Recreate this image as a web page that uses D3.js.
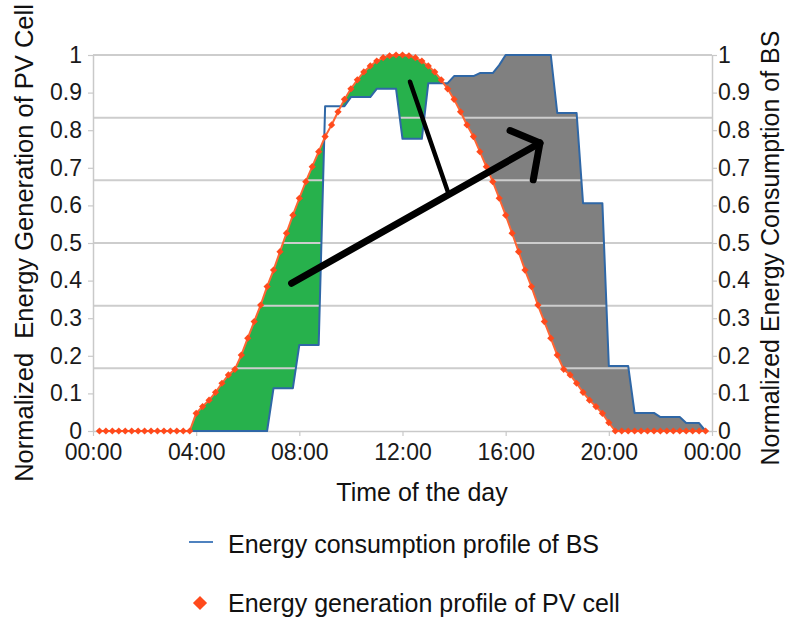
<!DOCTYPE html>
<html>
<head>
<meta charset="utf-8">
<script src="https://cdn.jsdelivr.net/npm/d3@7"></script>
<style>
  body { margin: 0; background: #fff; }
  svg { display: block; font-family: "Liberation Sans", Arial, sans-serif; }
</style>
</head>
<body>
<svg id="chart" width="785" height="619"></svg>
<script>
// Sample times in hours: one value every quarter hour, 00:15 ... 23:45
const times = d3.range(1, 96).map(i => i / 4);

// Normalized energy consumption of the base station (hourly profile, quarter-hour samples)
const bsLoad = [
  0, 0, 0,                                   // 00:xx
  0, 0, 0, 0,  0, 0, 0, 0,  0, 0, 0, 0,      // 01-03
  0, 0, 0, 0,  0, 0, 0, 0,  0, 0, 0, 0,      // 04-06
  0.114, 0.114, 0.114, 0.114,                // 07
  0.229, 0.229, 0.229, 0.229,                // 08
  0.864, 0.864, 0.864, 0.864,                // 09
  0.888, 0.888, 0.888, 0.888,                // 10
  0.910, 0.910, 0.910, 0.910,                // 11
  0.777, 0.777, 0.777, 0.777,                // 12
  0.925, 0.925, 0.925, 0.925,                // 13
  0.944, 0.944, 0.944, 0.944,                // 14
  0.952, 0.952, 0.952, 0.973,                // 15
  1.000, 1.000, 1.000, 1.000,                // 16
  1.000, 1.000, 1.000, 1.000,                // 17
  0.846, 0.846, 0.846, 0.846,                // 18
  0.606, 0.606, 0.606, 0.606,                // 19
  0.173, 0.173, 0.173, 0.173,                // 20
  0.048, 0.048, 0.048, 0.048,                // 21
  0.037, 0.037, 0.037, 0.037,                // 22
  0.021, 0.021, 0.021, 0                     // 23
];

// Normalized energy generation of the PV cell (quarter-hour samples)
const pvGen = [
  0, 0, 0,  0, 0, 0, 0,  0, 0, 0, 0,  0, 0, 0, 0,          // 00:15-03:45
  0.047, 0.065, 0.082, 0.103,                              // 04
  0.127, 0.149, 0.164, 0.202,                              // 05
  0.247, 0.291, 0.335, 0.384,                              // 06
  0.428, 0.477, 0.526, 0.574,                              // 07
  0.619, 0.663, 0.703, 0.743,                              // 08
  0.783, 0.814, 0.849, 0.882,                              // 09
  0.910, 0.934, 0.955, 0.971,                              // 10
  0.984, 0.993, 0.998, 1.000,                              // 11
  1.000, 0.998, 0.993, 0.984,                              // 12
  0.971, 0.955, 0.934, 0.910,                              // 13
  0.882, 0.849, 0.814, 0.783,                              // 14
  0.743, 0.703, 0.663, 0.619,                              // 15
  0.574, 0.526, 0.477, 0.428,                              // 16
  0.384, 0.335, 0.291, 0.247,                              // 17
  0.202, 0.164, 0.149, 0.127,                              // 18
  0.103, 0.082, 0.065, 0.047,                              // 19
  0.022, 0, 0, 0,                                          // 20
  0, 0, 0, 0,  0, 0, 0, 0,  0, 0, 0, 0                     // 21-23
];

// Axis ticks
const xTickHours = [0, 4, 8, 12, 16, 20, 24];
const xTickLabels = ["00:00", "04:00", "08:00", "12:00", "16:00", "20:00", "00:00"];
const yTicks = [0, 0.1, 0.2, 0.3, 0.4, 0.5, 0.6, 0.7, 0.8, 0.9, 1];
const gridLevels = [1 / 6, 2 / 6, 3 / 6, 4 / 6, 5 / 6, 1];

// Annotation strokes in data space [hour, value]
const shiftArrowShaft = [[7.70, 0.393], [17.33, 0.766]];
const shiftArrowHead = [[16.17, 0.799], [17.33, 0.766], [17.07, 0.668]];
const pointerStroke = [[12.29, 0.929], [13.78, 0.632]];

const svg = d3.select("#chart");
const x = d3.scaleLinear().domain([0, 24]).range([93, 712]);
const y = d3.scaleLinear().domain([0, 1]).range([431, 55]);

const rows = times.map((t, i) => ({ t, pv: pvGen[i], bs: bsLoad[i] }));

const defs = svg.append("defs");
// region below the PV curve
defs.append("clipPath").attr("id", "belowPV").append("path")
  .attr("d", d3.area().x(d => x(d.t)).y0(y(0) + 2).y1(d => y(d.pv))(rows));
// region above the PV curve
defs.append("clipPath").attr("id", "abovePV").append("path")
  .attr("d", d3.area().x(d => x(d.t)).y0(d => y(d.pv)).y1(y(1) - 2)(rows));
// afternoon half of the day
defs.append("clipPath").attr("id", "afternoon").append("rect")
  .attr("x", x(12)).attr("y", y(1) - 2)
  .attr("width", x(24) - x(12)).attr("height", y(0) - y(1) + 4);

// Surplus: generation above consumption
svg.append("path")
  .attr("clip-path", "url(#belowPV)")
  .attr("fill", "#27b14c")
  .attr("d", d3.area().x(d => x(d.t)).y0(d => y(d.bs)).y1(y(1) - 2)(rows));

// Deficit in the afternoon: consumption above generation
svg.append("g").attr("clip-path", "url(#afternoon)")
  .append("path")
  .attr("clip-path", "url(#abovePV)")
  .attr("fill", "#808080")
  .attr("d", d3.area().x(d => x(d.t)).y0(y(0)).y1(d => y(d.bs))(rows));

// Horizontal grid
svg.append("g").selectAll("line").data(gridLevels).join("line")
  .attr("x1", x(0)).attr("x2", x(24))
  .attr("y1", d => y(d)).attr("y2", d => y(d))
  .attr("stroke", "#cdcdcd").attr("stroke-width", 2);

// Axes
function styleAxis(g) {
  g.select(".domain").attr("stroke", "#c9c9c9").attr("stroke-width", 1.5);
  g.selectAll(".tick line").attr("stroke", "#c9c9c9").attr("stroke-width", 1.2);
  g.selectAll(".tick text").attr("fill", "#1a1a1a")
    .attr("font-size", 23).attr("font-family", "Liberation Sans, Arial, sans-serif");
}
svg.append("g").attr("transform", `translate(${x(0)},0)`)
  .call(d3.axisLeft(y).tickValues(yTicks).tickFormat(d3.format("~g"))
    .tickSize(5).tickSizeOuter(0).tickPadding(6))
  .call(styleAxis);
svg.append("g").attr("transform", `translate(${x(24)},0)`)
  .call(d3.axisRight(y).tickValues(yTicks).tickFormat(d3.format("~g"))
    .tickSize(5).tickSizeOuter(0).tickPadding(1))
  .call(styleAxis);
svg.append("g").attr("transform", `translate(0,${y(0)})`)
  .call(d3.axisBottom(x).tickValues(xTickHours).tickFormat((d, i) => xTickLabels[i])
    .tickSize(5).tickSizeOuter(0).tickPadding(8))
  .call(styleAxis);

// Base station consumption profile
svg.append("path").datum(rows)
  .attr("fill", "none").attr("stroke", "#2f67a6").attr("stroke-width", 2)
  .attr("stroke-linejoin", "round")
  .attr("d", d3.line().x(d => x(d.t)).y(d => y(d.bs)));

// PV generation profile with diamond markers
svg.append("path").datum(rows)
  .attr("fill", "none").attr("stroke", "#ff6433").attr("stroke-width", 2)
  .attr("d", d3.line().x(d => x(d.t)).y(d => y(d.pv)));
const diamond = d3.symbol().type(d3.symbolSquare).size(26);
svg.append("g").selectAll("path").data(rows).join("path")
  .attr("d", diamond)
  .attr("transform", d => `translate(${x(d.t)},${y(d.pv)}) rotate(45)`)
  .attr("fill", "#ff4a1c");

// Annotation strokes
const strokeLine = d3.line().x(d => x(d[0])).y(d => y(d[1]));
svg.append("path").attr("d", strokeLine(pointerStroke))
  .attr("fill", "none").attr("stroke", "#000").attr("stroke-width", 4.5)
  .attr("stroke-linecap", "round");
svg.append("path").attr("d", strokeLine(shiftArrowShaft))
  .attr("fill", "none").attr("stroke", "#000").attr("stroke-width", 7)
  .attr("stroke-linecap", "round");
svg.append("path").attr("d", strokeLine(shiftArrowHead))
  .attr("fill", "none").attr("stroke", "#000").attr("stroke-width", 7)
  .attr("stroke-linecap", "round").attr("stroke-linejoin", "round");

// Axis titles
svg.append("text")
  .attr("transform", `translate(33,${(y(0) + y(1)) / 2}) rotate(-90)`)
  .attr("text-anchor", "middle").attr("font-size", 25.5).attr("fill", "#111")
  .style("white-space", "pre")
  .text("Normalized  Energy Generation of PV Cell");
svg.append("text")
  .attr("transform", `translate(779,${(y(0) + y(1)) / 2 + 5}) rotate(-90)`)
  .attr("text-anchor", "middle").attr("font-size", 25).attr("fill", "#111")
  .text("Normalized Energy Consumption of BS");
svg.append("text")
  .attr("x", 422).attr("y", 501)
  .attr("text-anchor", "middle").attr("font-size", 25).attr("fill", "#111")
  .text("Time of the day");

// Legend
const legend = svg.append("g");
legend.append("line").attr("x1", 189).attr("x2", 213).attr("y1", 542).attr("y2", 542)
  .attr("stroke", "#4f82bf").attr("stroke-width", 2);
legend.append("text").attr("x", 228).attr("y", 553)
  .attr("font-size", 25).attr("fill", "#111").text("Energy consumption profile of BS");
legend.append("path")
  .attr("d", d3.symbol().type(d3.symbolSquare).size(100))
  .attr("transform", "translate(200,603) rotate(45)")
  .attr("fill", "#ff4a1c");
legend.append("text").attr("x", 228).attr("y", 612)
  .attr("font-size", 25).attr("fill", "#111").text("Energy generation profile of PV cell");
</script>
</body>
</html>
